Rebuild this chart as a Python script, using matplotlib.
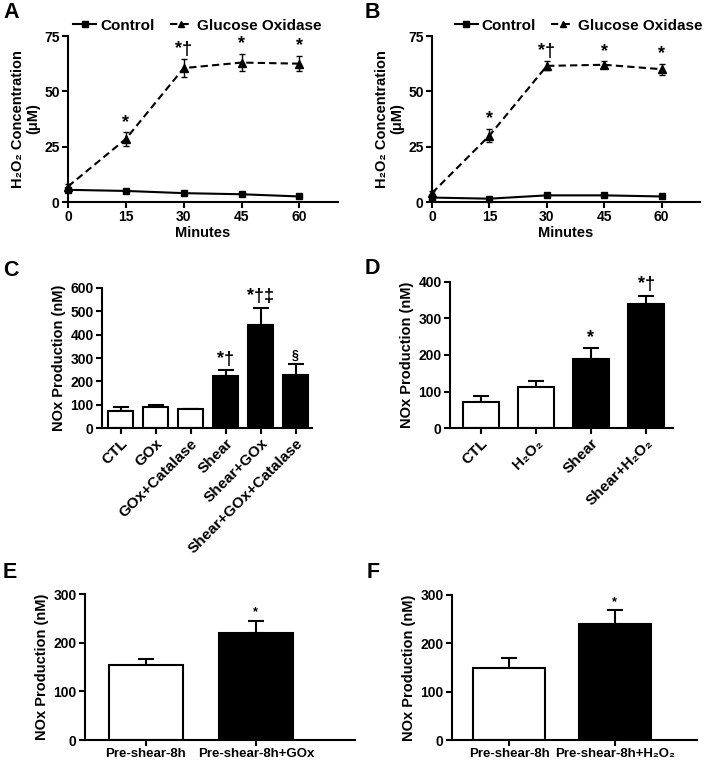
import matplotlib
matplotlib.use("Agg")
import matplotlib.pyplot as plt
from matplotlib.lines import Line2D
import numpy as np

plt.rcParams['font.family'] = ['Liberation Sans', 'DejaVu Sans']
plt.rcParams['font.weight'] = 'bold'
plt.rcParams['axes.labelweight'] = 'bold'

# ---- data ----
minutes = [0, 15, 30, 45, 60]
a_ctl = [5.5, 5.0, 4.0, 3.5, 2.5]
a_ctl_err = [0.8, 0.6, 0.6, 0.6, 0.6]
a_gox = [7.0, 28.5, 60.5, 63.0, 62.5]
a_gox_err = [1.0, 3.0, 4.0, 4.0, 3.5]
a_sig = ["", "*", "*†", "*", "*"]

b_ctl = [2.0, 1.5, 3.0, 3.0, 2.5]
b_ctl_err = [0.6, 0.5, 0.6, 0.6, 0.6]
b_gox = [4.0, 30.0, 61.5, 62.0, 60.0]
b_gox_err = [1.0, 3.0, 2.0, 1.5, 2.5]
b_sig = ["", "*", "*†", "*", "*"]

c_labels = ["CTL", "GOx", "GOx+Catalase", "Shear", "Shear+GOx", "Shear+GOx+Catalase"]
c_vals = [75, 88, 80, 225, 440, 228]
c_err = [15, 10, 3, 22, 75, 45]
c_fill = ["white", "white", "white", "black", "black", "black"]
c_sig = ["", "", "", "*†", "*†‡", "§"]

d_labels = ["CTL", "H₂O₂", "Shear", "Shear+H₂O₂"]
d_vals = [72, 113, 188, 340]
d_err = [17, 17, 30, 23]
d_fill = ["white", "white", "black", "black"]
d_sig = ["", "", "*", "*†"]

e_labels = ["Pre-shear-8h", "Pre-shear-8h+GOx"]
e_vals = [155, 220]
e_err = [12, 25]
e_fill = ["white", "black"]
e_sig = ["", "*"]

f_labels = ["Pre-shear-8h", "Pre-shear-8h+H₂O₂"]
f_vals = [150, 240]
f_err = [20, 28]
f_fill = ["white", "black"]
f_sig = ["", "*"]

W, H = 707, 760
fig = plt.figure(figsize=(W / 100, H / 100), dpi=100)

TICK_FS = 10
LABEL_FS = 10.5


def add_ax(l, r, t, b):
    return fig.add_axes([l / W, 1 - b / H, (r - l) / W, (b - t) / H])


def style(ax):
    for s in ['top', 'right']:
        ax.spines[s].set_visible(False)
    for s in ['left', 'bottom']:
        ax.spines[s].set_linewidth(1.5)
    ax.tick_params(width=1.5, length=4, labelsize=TICK_FS, pad=2)
    for lab in ax.get_xticklabels() + ax.get_yticklabels():
        lab.set_fontweight('bold')


DASH = (0, (3.5, 2))


def line_panel(ax, ctl, ctl_err, gox, gox_err, sig, legend_anchor):
    ax.errorbar(minutes, ctl, yerr=ctl_err, color='black', lw=1.5, marker='s', ms=5,
                capsize=2.5, elinewidth=1, clip_on=False, zorder=3)
    ax.errorbar(minutes, gox, yerr=gox_err, color='black', lw=1.5, ls=DASH, marker='^', ms=6,
                capsize=2.5, elinewidth=1, clip_on=False, zorder=3)
    for x, y, e, s in zip(minutes, gox, gox_err, sig):
        if s:
            ax.annotate(s, (x, y + e), xytext=(0, 1), textcoords='offset points',
                        ha='center', va='bottom', fontsize=13, fontweight='bold')
    ax.set_xlim(0, 70)
    ax.set_ylim(0, 75)
    ax.set_xticks(minutes)
    ax.set_yticks([0, 25, 50, 75])
    ax.set_xlabel('Minutes', fontsize=LABEL_FS, labelpad=1)
    ax.set_ylabel('H₂O₂ Concentration\n(μM)', fontsize=LABEL_FS, labelpad=3, linespacing=1.05)
    style(ax)
    handles = [Line2D([], [], color='black', lw=1.5, marker='s', ms=5),
               Line2D([], [], color='black', lw=1.5, ls=DASH, marker='^', ms=5)]
    ax.legend(handles, ['Control', 'Glucose Oxidase'], loc='lower left',
              bbox_to_anchor=legend_anchor, ncol=2, frameon=False,
              handlelength=1.5, handletextpad=0.25, columnspacing=1.0,
              borderaxespad=0, borderpad=0, prop={'weight': 'bold', 'size': 11})


def bar_panel(ax, labels, vals, err, fill, sig, width, xlim, ylim, yticks, rot, tick_fs, sig_fs):
    x = np.arange(len(vals))
    ax.bar(x, vals, width=width, color=fill, edgecolor='black', linewidth=1.5, zorder=2)
    ax.errorbar(x, vals, yerr=[np.zeros(len(vals)), err], fmt='none', ecolor='black',
                elinewidth=1.5, capsize=6, capthick=1.5, zorder=1)
    for xi, v, e, s in zip(x, vals, err, sig):
        if s:
            fs = 9 if s == "§" else sig_fs
            ax.annotate(s, (xi, v + e), xytext=(0, 2), textcoords='offset points',
                        ha='center', va='bottom', fontsize=fs, fontweight='bold')
    ax.set_xlim(*xlim)
    ax.set_ylim(*ylim)
    ax.set_yticks(yticks)
    ax.set_xticks(x)
    if rot:
        ax.set_xticklabels(labels, rotation=45, ha='right', rotation_mode='anchor')
    else:
        ax.set_xticklabels(labels)
    ax.set_ylabel('NOx Production (nM)', fontsize=LABEL_FS, labelpad=3)
    style(ax)
    for lab in ax.get_xticklabels():
        lab.set_fontsize(tick_fs)


axA = add_ax(68, 338, 36, 202)
line_panel(axA, a_ctl, a_ctl_err, a_gox, a_gox_err, a_sig, (0.02, 1.02))
axB = add_ax(432, 700, 36, 202)
line_panel(axB, b_ctl, b_ctl_err, b_gox, b_gox_err, b_sig, (0.085, 1.02))

axC = add_ax(102, 312, 288, 428)
bar_panel(axC, c_labels, c_vals, c_err, c_fill, c_sig, 0.72, (-0.53, 5.47), (0, 600),
          [0, 100, 200, 300, 400, 500, 600], True, 11, 13)

axD = add_ax(450, 673, 282, 428)
bar_panel(axD, d_labels, d_vals, d_err, d_fill, d_sig, 0.66, (-0.56, 3.49), (0, 400),
          [0, 100, 200, 300, 400], True, 11, 13)

axE = add_ax(85, 355, 594, 740)
bar_panel(axE, e_labels, e_vals, e_err, e_fill, e_sig, 0.67, (-0.55, 1.9), (0, 300),
          [0, 100, 200, 300], False, 9.5, 9)

axF = add_ax(452, 697, 595, 740)
bar_panel(axF, f_labels, f_vals, f_err, f_fill, f_sig, 0.68, (-0.54, 1.78), (0, 300),
          [0, 100, 200, 300], False, 9.5, 9)

for lbl, (px, py) in zip("ABCDEF", [(3, 13), (365, 13), (3, 270), (365, 268), (3, 573), (367, 572)]):
    fig.text(px / W, 1 - py / H, lbl, fontsize=15.5, fontweight='bold', ha='left', va='center')

fig.savefig('out.png', dpi=100, facecolor='white')
